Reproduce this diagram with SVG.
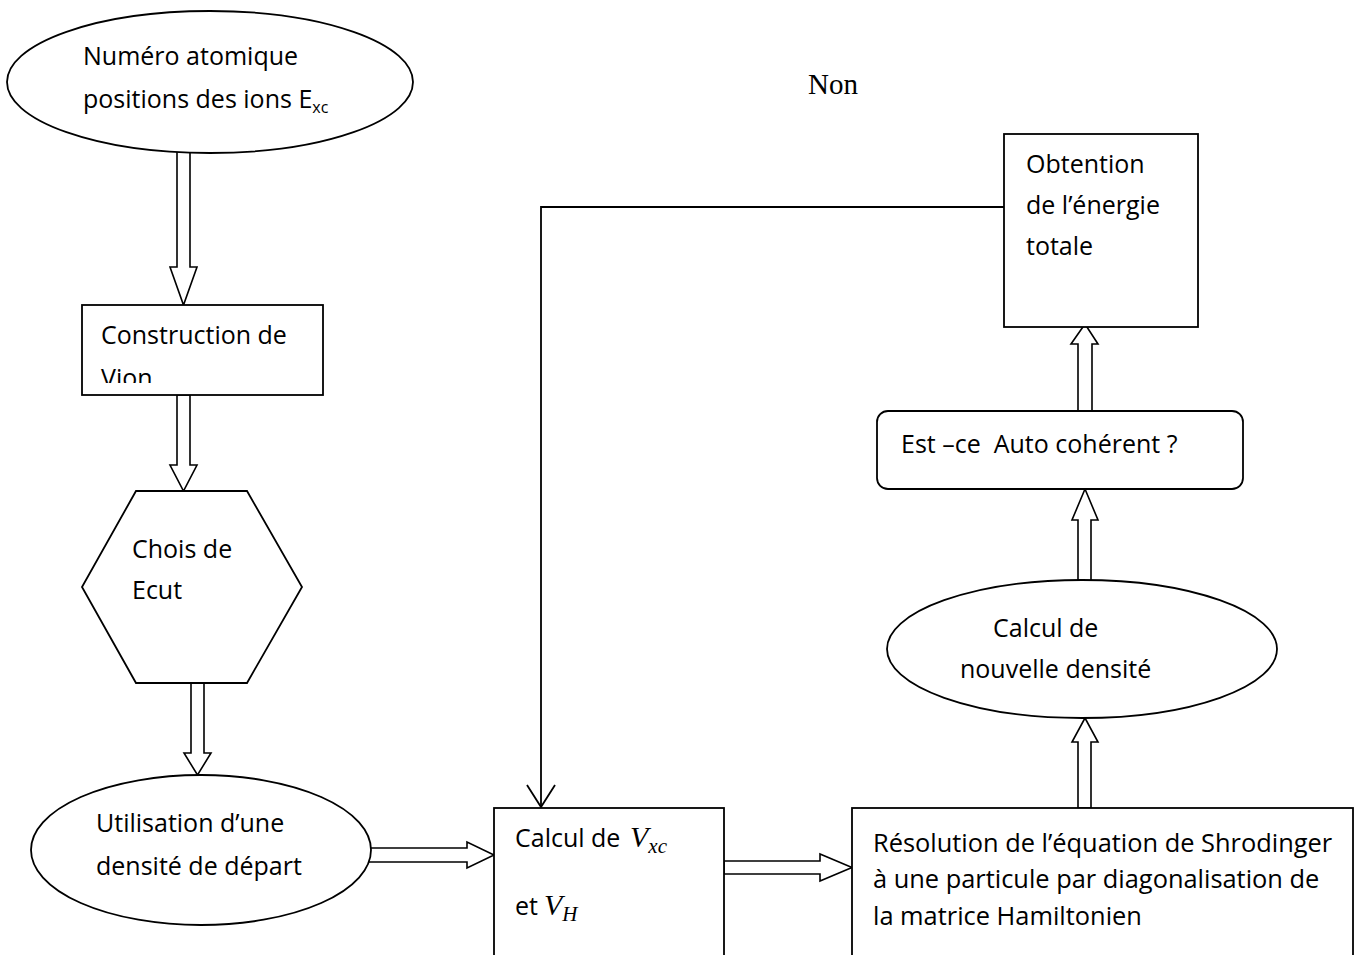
<svg xmlns="http://www.w3.org/2000/svg" width="1367" height="955" viewBox="0 0 1367 955">
<style>
.s{fill:#fff;stroke:#000;stroke-width:1.8}
.a{fill:#fff;stroke:#000;stroke-width:1.6;stroke-linejoin:miter}
.l{fill:none;stroke:#000;stroke-width:1.8}
.t{font-family:"Open Sans","Liberation Sans",sans-serif;font-size:25px;fill:#000;white-space:pre}
.w{font-size:25.4px}
.sub{font-size:16px}
.m{font-family:"Liberation Serif","DejaVu Serif",serif;font-style:italic;font-size:30px}
.ms{font-family:"Liberation Serif","DejaVu Serif",serif;font-style:italic;font-size:21px}
.n{font-family:"Liberation Serif","Times New Roman",serif;font-size:29px;fill:#000}
</style>
<defs>
<clipPath id="clipVion"><rect x="82" y="305" width="241" height="78"/></clipPath>
</defs>
<rect width="1367" height="955" fill="#fff"/>
<g id="connectors">
<polygon class="a" points="177,148 190,148 190,267 197,267 183.5,305 170,267 177,267"/>
<polygon class="a" points="177,395 190,395 190,465 197,465 183.5,491 170,465 177,465"/>
<polygon class="a" points="191,683 204,683 204,753 211,753 197.5,775 184,753 191,753"/>
<polygon class="a" points="366,848 467,848 467,842 494,855 467,868 467,862 366,862"/>
<polygon class="a" points="724,861 820,861 820,854 852,867.5 820,881 820,874 724,874"/>
<polygon class="a" points="1078,808 1078,742 1072,742 1085,718 1098,742 1091,742 1091,808"/>
<polygon class="a" points="1078,585 1078,520 1072,520 1085,489 1098,520 1091,520 1091,585"/>
<polygon class="a" points="1078,411 1078,344 1071,344 1085,324 1098,344 1092,344 1092,411"/>
<polyline class="l" points="1004,207 541,207 541,807"/>
<polyline class="l" points="527,785 541,807 555,785"/>
</g>
<g id="n-start">
<ellipse class="s" cx="210" cy="82" rx="203" ry="71"/>
<text class="t" x="83" y="65">Numéro atomique</text>
<text class="t" x="83" y="108">positions des ions E<tspan class="sub" dy="5">xc</tspan></text>
</g>
<g id="n-vion">
<rect class="s" x="82" y="305" width="241" height="90"/>
<g clip-path="url(#clipVion)">
<text class="t" x="101" y="344">Construction de</text>
<text class="t" x="101" y="387">Vion</text>
</g>
</g>
<g id="n-ecut">
<polygon class="s" points="136,491 247,491 302,587 247,683 136,683 82,587"/>
<text class="t" x="132" y="558">Chois de</text>
<text class="t" x="132" y="599">Ecut</text>
</g>
<g id="n-densite">
<ellipse class="s" cx="201" cy="850" rx="170" ry="75"/>
<text class="t" x="96" y="832">Utilisation d’une</text>
<text class="t" x="96" y="875">densité de départ</text>
</g>
<g id="n-calcul">
<rect class="s" x="494" y="808" width="230" height="170"/>
<text class="t" x="515" y="847">Calcul de<tspan class="m" x="630">V</tspan><tspan class="ms" dy="6">xc</tspan></text>
<text class="t" x="515" y="915">et<tspan class="m" x="544">V</tspan><tspan class="ms" dy="6">H</tspan></text>
</g>
<g id="n-resolution">
<rect class="s" x="852" y="808" width="501" height="170"/>
<text class="t w" x="873" y="852">Résolution de l’équation de Shrodinger</text>
<text class="t w" x="873" y="888">à une particule par diagonalisation de</text>
<text class="t w" x="873" y="925">la matrice Hamiltonien</text>
</g>
<g id="n-nouvelle">
<ellipse class="s" cx="1082" cy="649" rx="195" ry="69"/>
<text class="t" x="993" y="637">Calcul de</text>
<text class="t" x="960" y="678">nouvelle densité</text>
</g>
<g id="n-auto">
<rect class="s" x="877" y="411" width="366" height="78" rx="11" ry="11"/>
<text class="t" x="901" y="453">Est –ce  Auto cohérent ?</text>
</g>
<g id="n-energie">
<rect class="s" x="1004" y="134" width="194" height="193"/>
<text class="t" x="1026" y="173">Obtention</text>
<text class="t" x="1026" y="214">de l’énergie</text>
<text class="t" x="1026" y="255">totale</text>
</g>
<g id="label-non">
<text class="n" x="808" y="94">Non</text>
</g>
</svg>
